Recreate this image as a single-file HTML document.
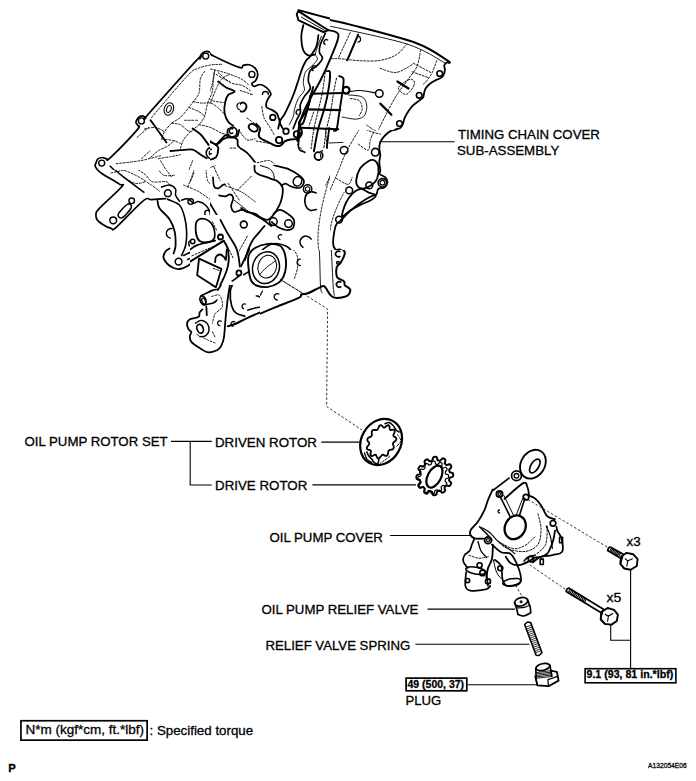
<!DOCTYPE html>
<html><head><meta charset="utf-8">
<style>
html,body{margin:0;padding:0;background:#fff;}
svg{display:block;}
text{font-family:"Liberation Sans",sans-serif;fill:#000;stroke:#000;stroke-width:0.3px;}
.l{font-size:13.4px;}
.b{font-size:11px;font-weight:bold;}
</style></head><body>
<svg width="696" height="781" viewBox="0 0 696 781">
<rect width="696" height="781" fill="#fff"/>
<g id="labels">
<text transform="translate(458.00 138.80) scale(0.981 1)" style="font-size:13.50px;font-weight:normal">TIMING CHAIN COVER</text>
<text transform="translate(457.00 154.60) scale(0.984 1)" style="font-size:13.50px;font-weight:normal">SUB-ASSEMBLY</text>
<text transform="translate(24.50 446.40) scale(0.981 1)" style="font-size:13.50px;font-weight:normal">OIL PUMP ROTOR SET</text>
<text transform="translate(215.00 446.70) scale(0.988 1)" style="font-size:13.50px;font-weight:normal">DRIVEN ROTOR</text>
<text transform="translate(215.00 489.80) scale(0.989 1)" style="font-size:13.50px;font-weight:normal">DRIVE ROTOR</text>
<text transform="translate(269.50 541.70) scale(0.982 1)" style="font-size:13.50px;font-weight:normal">OIL PUMP COVER</text>
<text transform="translate(261.50 614.20) scale(0.982 1)" style="font-size:13.50px;font-weight:normal">OIL PUMP RELIEF VALVE</text>
<text transform="translate(265.50 650.30) scale(0.978 1)" style="font-size:13.50px;font-weight:normal">RELIEF VALVE SPRING</text>
<text transform="translate(405.50 704.50) scale(0.972 1)" style="font-size:13.50px;font-weight:normal">PLUG</text>
<text transform="translate(25.50 734.20) scale(1.000 1)" style="font-size:13.50px;font-weight:normal">N*m (kgf*cm, ft.*lbf)</text>
<text transform="translate(149.50 734.60) scale(0.987 1)" style="font-size:13.50px;font-weight:normal">: Specified torque</text>
<text transform="translate(626.50 545.80) scale(1.101 1)" style="font-size:12.14px;font-weight:normal">x3</text>
<text transform="translate(606.50 602.30) scale(1.152 1)" style="font-size:12.14px;font-weight:normal">x5</text>
<text transform="translate(407.50 687.80) scale(0.942 1)" style="font-size:11.14px;font-weight:bold">49 (500, 37)</text>
<text transform="translate(586.50 678.10) scale(0.993 1)" style="font-size:10.71px;font-weight:bold">9.1 (93, 81 in.*lbf)</text>
<text transform="translate(8.20 771.80) scale(0.987 1)" style="font-size:11.43px;font-weight:bold">P</text>
<text transform="translate(648.00 768.30) scale(0.854 1)" style="font-size:7.86px;font-weight:normal">A132054E06</text>
</g>
<g id="lines" stroke="#000" fill="none" stroke-width="1.1">
<path d="M379.6 141.7H454.6"/>
<path d="M171 441.4H211.8M190.2 441.4V485H211.8"/>
<path d="M321.3 442.1H359.5"/>
<path d="M312.4 484.9H416"/>
<path d="M390 535.5H470"/>
<path d="M427.5 609.1H515"/>
<path d="M415.3 644.3H529.4"/>
<path d="M467.6 684.7H537"/>
<path d="M630.6 569.6V668.3M610.7 624.9V640.3H630.6"/>
<rect x="406.1" y="678.1" width="60.7" height="12.7" stroke-width="1.7"/>
<rect x="585.1" y="668.7" width="90.8" height="14.1" stroke-width="1.6"/>
<rect x="20.95" y="720.75" width="126.2" height="19.4" stroke-width="1.7"/>
</g>
<g id="dashed" stroke="#000" fill="none" stroke-width="0.8" stroke-dasharray="2.5 2">
<path d="M280.5 279.5L327.6 309L326.6 406.5L362 430"/>
<path d="M527.8 499.4L607.4 547.2"/>
<path d="M529.8 564.9L566.4 590"/>
<path d="M515.5 585.3L521.6 595.6"/>
</g>
<g id="drawing" stroke="#000" fill="none" stroke-linecap="round" stroke-linejoin="round">
<defs><clipPath id="k0"><rect x="80" y="40" width="130" height="130"/></clipPath><clipPath id="k1"><rect x="210" y="0" width="120" height="95"/><rect x="210" y="95" width="30" height="33"/><rect x="320" y="95" width="10" height="55"/></clipPath><clipPath id="k2"><rect x="330" y="0" width="130" height="130"/></clipPath><clipPath id="k3"><rect x="80" y="170" width="130" height="45"/><rect x="80" y="215" width="110" height="85"/></clipPath><clipPath id="k4"><rect x="80" y="300" width="180" height="70"/><rect x="190" y="285" width="70" height="15"/><rect x="250" y="250" width="10" height="35"/></clipPath><clipPath id="k5"><rect x="190" y="215" width="60" height="70"/></clipPath><clipPath id="k6"><rect x="210" y="128" width="30" height="22"/><rect x="210" y="150" width="30" height="65"/><rect x="240" y="165" width="90" height="50"/><rect x="320" y="150" width="10" height="15"/><rect x="250" y="215" width="80" height="35"/></clipPath><clipPath id="k7"><rect x="330" y="130" width="130" height="120"/></clipPath><clipPath id="k8"><rect x="260" y="250" width="200" height="120"/></clipPath><clipPath id="k15"><rect x="240" y="95" width="80" height="70"/></clipPath></defs>
<g clip-path="url(#k0)">
<path d="M100.9 173.4 C100.3 172.7 98.1 170.6 97.1 169.3 C96.1 168.1 95.3 167.0 95.1 165.9 C94.9 164.8 95.7 163.8 96.1 162.7 C96.5 161.6 96.7 160.0 97.7 159.1 C98.7 158.2 100.7 157.5 102.1 157.5 C103.6 157.4 105.2 158.6 106.6 158.7 C107.9 158.7 105.1 162.6 110.2 157.9 C115.2 153.1 132.3 135.5 136.9 130.1 C141.6 124.7 138.1 126.8 137.9 125.5 C137.8 124.2 135.9 123.8 135.9 122.5 C136.0 121.2 137.3 118.8 138.3 117.6 C139.4 116.5 141.1 115.8 142.4 115.8 C143.6 115.8 144.8 117.9 145.8 117.6 C146.8 117.3 139.9 123.6 148.4 114.0 C156.9 104.4 188.1 69.3 196.7 60.1 C205.2 50.9 199.2 59.7 199.9 58.9 C200.6 58.1 199.9 56.3 200.7 55.1 C201.5 53.9 203.2 52.2 204.7 51.7 C206.2 51.2 208.3 51.5 209.7 52.1 C211.1 52.6 211.3 53.8 213.2 55.1 C215.0 56.3 219.5 58.8 220.8 59.5" stroke-width="1.7"/>
<circle cx="101.7" cy="163.1" r="3.0" stroke-width="1.4"/>
<circle cx="141.4" cy="120.9" r="3.0" stroke-width="1.4"/>
<circle cx="205.7" cy="56.1" r="3.0" stroke-width="1.4"/>
<ellipse cx="168.9" cy="109.0" rx="4.6" ry="6.4" transform="rotate(20 168.9 109.0)" stroke-width="1.1"/>
<ellipse cx="168.9" cy="109.0" rx="2.2" ry="3.6" transform="rotate(20 168.9 109.0)" stroke-width="1.0"/>
<path d="M150.4 120.1 C151.5 121.5 154.2 125.2 156.8 128.9 C159.5 132.7 164.9 140.3 166.5 142.6" stroke-width="1.8"/>
<path d="M192.6 128.5 C194.0 129.5 198.0 131.8 200.7 134.5 C203.4 137.3 207.4 143.3 208.7 145.0" stroke-width="1.8"/>
<circle cx="211.8" cy="153.0" r="5.6" stroke-width="1.6"/>
<circle cx="211.8" cy="153.0" r="2.6" stroke-width="1.2"/>
<path d="M170.5 151.0 C172.2 150.9 176.9 150.5 180.6 150.2 C184.3 150.0 189.3 148.9 192.6 149.6 C196.0 150.4 198.3 153.2 200.7 154.7 C203.0 156.1 205.7 157.7 206.7 158.3" stroke-width="1.8"/>
<path d="M158.4 158.7 C160.5 158.3 166.8 157.3 170.5 156.7 C174.2 156.0 178.9 155.0 180.6 154.7" stroke-width="0.9" stroke-dasharray="2 1.6"/>
<path d="M110.2 166.3 C111.5 167.6 115.7 171.4 118.2 173.8 C120.7 176.2 124.1 179.6 125.3 180.8" stroke-width="1.6"/>
<path d="M116.2 163.7 C120.2 163.2 133.0 162.0 140.3 160.7 C147.7 159.3 157.1 156.5 160.5 155.7" stroke-width="0.9" stroke-dasharray="2 1.6"/>
<path d="M192.6 160.7 C192.0 162.4 190.0 167.4 188.6 170.7 C187.3 174.1 185.3 179.1 184.6 180.8" stroke-width="0.9" stroke-dasharray="2 1.6"/>
<path d="M160.5 160.7 C161.5 162.4 164.5 167.4 166.5 170.7 C168.5 174.1 171.5 179.1 172.5 180.8" stroke-width="0.9" stroke-dasharray="2 1.6"/>
</g>
<g clip-path="url(#k1)">
<path d="M200.0 56.3 C200.7 55.6 202.5 52.5 204.0 51.9 C205.5 51.3 207.4 52.0 209.1 52.7 C210.7 53.4 209.1 53.9 214.1 56.3 C219.1 58.8 234.4 65.9 239.2 67.4 C244.1 68.9 241.6 65.8 243.2 65.4 C244.9 64.9 247.3 64.3 249.3 64.8 C251.3 65.3 253.9 66.8 255.3 68.4 C256.7 70.0 257.7 72.4 257.7 74.4 C257.8 76.4 256.7 79.0 255.7 80.5 C254.7 82.0 252.1 82.5 251.9 83.5 C251.7 84.5 252.9 86.3 254.3 86.5 C255.7 86.7 258.3 84.2 260.3 84.5 C262.4 84.7 265.0 86.4 266.8 87.9 C268.5 89.4 270.3 91.3 270.8 93.5 C271.3 95.8 270.3 99.6 269.8 101.6 C269.3 103.6 267.7 104.2 268.0 105.6 C268.3 107.0 270.1 108.9 271.4 110.2 C272.7 111.6 275.0 112.2 276.0 113.6 C277.0 115.1 276.6 117.7 277.4 119.1 C278.2 120.4 279.8 120.9 280.9 121.7 C282.0 122.5 283.3 122.4 284.1 123.7 C284.9 125.0 284.6 128.2 285.5 129.7 C286.4 131.3 287.8 132.3 289.5 133.2 C291.2 134.1 293.5 135.2 295.5 135.2 C297.6 135.2 300.6 133.5 301.6 133.2" stroke-width="1.7"/>
<circle cx="206.0" cy="56.7" r="3.0" stroke-width="1.4"/>
<circle cx="251.9" cy="74.4" r="3.0" stroke-width="1.4"/>
<circle cx="265.4" cy="94.5" r="3.0" stroke-width="1.4"/>
<circle cx="274.4" cy="116.7" r="2.6" stroke-width="1.3"/>
<circle cx="286.9" cy="130.7" r="2.6" stroke-width="1.3"/>
<circle cx="297.0" cy="135.2" r="2.6" stroke-width="1.3"/>
<path d="M218.1 81.5 C219.4 82.5 223.4 85.8 226.1 87.5 C228.9 89.2 234.3 90.3 234.6 91.5 C234.9 92.8 229.7 93.1 228.2 94.9 C226.6 96.8 225.7 99.6 225.1 102.6 C224.5 105.5 224.0 109.5 224.5 112.6 C225.0 115.8 226.7 119.5 228.2 121.7 C229.6 123.9 232.4 125.0 233.2 125.7" stroke-width="1.8"/>
<circle cx="232.6" cy="130.7" r="3.4" stroke-width="1.4"/>
<ellipse cx="241.2" cy="106.6" rx="4.4" ry="3.6" transform="rotate(30 241.2 106.6)" stroke-width="1.3"/>
<ellipse cx="253.3" cy="126.7" rx="4.0" ry="3.4" transform="rotate(30 253.3 126.7)" stroke-width="1.3"/>
<path d="M200.0 66.4 C202.0 66.9 208.0 68.4 212.1 69.4 C216.1 70.4 219.4 70.9 224.1 72.4 C228.8 73.9 236.2 76.4 240.2 78.4 C244.3 80.5 246.9 83.5 248.3 84.5" stroke-width="0.9" stroke-dasharray="2 1.6"/>
<path d="M214.1 72.4 C213.7 74.4 213.1 80.5 212.1 84.5 C211.1 88.5 209.1 92.5 208.0 96.6 C207.0 100.6 206.7 104.6 206.0 108.6 C205.4 112.6 204.4 118.7 204.0 120.7" stroke-width="0.9" stroke-dasharray="2 1.6"/>
<path d="M200.0 94.5 C202.0 95.5 208.0 99.2 212.1 100.6 C216.1 101.9 222.1 102.3 224.1 102.6" stroke-width="0.9" stroke-dasharray="2 1.6"/>
<path d="M250.3 94.5 C251.3 95.5 254.6 97.6 256.3 100.6 C258.0 103.6 258.7 109.3 260.3 112.6 C262.0 116.0 265.4 119.3 266.4 120.7" stroke-width="0.9" stroke-dasharray="2 1.6"/>
<path d="M240.2 90.5 L252.3 94.5" stroke-width="0.9" stroke-dasharray="2 1.6"/>
<path d="M218.1 72.4 C220.1 74.1 226.1 80.3 230.2 82.5 C234.2 84.7 238.9 84.1 242.2 85.5 C245.6 86.8 248.9 89.7 250.3 90.5" stroke-width="0.9" stroke-dasharray="2 1.6"/>
<path d="M298.6 10.1 C302.3 11.1 313.8 14.2 320.7 16.1 C327.6 17.9 336.8 20.3 340.0 21.1" stroke-width="2.0"/>
</g>
<g clip-path="url(#k2)">
<path d="M320.0 18.1 C325.4 19.3 336.1 21.0 352.2 25.1 C368.3 29.3 400.7 37.4 416.6 43.2 C432.4 49.1 441.8 57.1 447.1 60.3 C452.5 63.6 448.5 62.4 448.7 62.8" stroke-width="2.0"/>
<path d="M328.0 25.7 C341.1 28.8 387.0 37.7 406.5 43.9 C425.9 50.0 438.3 59.6 444.7 62.8" stroke-width="0.9"/>
<path d="M447.7 62.0 C447.2 62.5 444.8 63.7 444.3 65.0 C443.8 66.2 445.0 68.0 444.9 69.6 C444.8 71.2 444.3 73.3 443.7 74.6 C443.1 76.0 442.7 76.8 441.5 77.6 C440.3 78.5 438.1 78.9 436.3 79.9 C434.5 80.8 432.3 81.9 430.6 83.3 C428.9 84.6 427.1 86.4 426.0 87.9 C424.9 89.4 424.7 91.0 424.2 92.5 C423.7 94.1 424.0 95.8 423.2 97.2 C422.4 98.5 420.8 99.2 419.2 100.6 C417.5 101.9 415.1 103.5 413.3 105.2 C411.6 106.9 410.1 108.7 408.7 110.8 C407.3 112.9 405.6 115.8 404.7 117.9 C403.7 120.0 403.8 121.8 403.1 123.5 C402.3 125.2 401.4 127.1 400.1 128.1 C398.7 129.2 397.1 128.2 394.8 129.9 C392.5 131.7 387.8 137.3 386.4 138.8" stroke-width="1.8"/>
<circle cx="439.7" cy="73.6" r="2.8" stroke-width="1.6"/>
<circle cx="419.2" cy="95.3" r="2.8" stroke-width="1.6"/>
<circle cx="399.5" cy="123.5" r="2.8" stroke-width="1.6"/>
<path d="M358.2 34.6 L347.2 60.3" stroke-width="2.0"/>
<path d="M350.2 32.6 L338.1 58.7" stroke-width="0.9" stroke-dasharray="2 1.6"/>
<path d="M357.8 36.4 A2.8 2.8 0 0 1 357.8 42.0" stroke-width="1.2"/>
<path d="M406.9 43.9 C405.2 45.7 400.9 52.0 396.4 54.7 C392.0 57.5 386.4 59.3 380.3 60.3 C374.3 61.4 366.9 61.0 360.2 60.7 C353.5 60.5 345.1 59.1 340.1 58.7 C335.1 58.4 331.7 58.7 330.1 58.7" stroke-width="0.9" stroke-dasharray="2 1.6"/>
<path d="M420.6 49.9 C420.0 52.6 419.2 61.2 417.0 66.4 C414.7 71.5 410.2 76.1 406.9 80.9 C403.5 85.6 400.2 89.6 396.8 94.9 C393.5 100.3 389.8 107.3 386.8 113.0 C383.8 118.7 380.1 126.5 378.7 129.1" stroke-width="0.9" stroke-dasharray="2 1.6"/>
<path d="M436.7 60.7 C435.7 63.1 433.3 70.8 431.0 74.8 C428.8 78.9 424.3 83.2 423.0 84.9" stroke-width="0.9" stroke-dasharray="2 1.6"/>
<path d="M413.3 63.2 L430.6 72.4" stroke-width="0.9" stroke-dasharray="2 1.6"/>
<path d="M412.1 71.8 L428.2 77.6" stroke-width="0.9" stroke-dasharray="2 1.6"/>
<path d="M398.4 87.9 C397.9 90.4 403.8 95.0 406.5 94.3 C409.2 93.7 414.0 86.4 414.5 83.9 C415.1 81.4 412.6 78.6 409.9 79.3 C407.2 79.9 399.0 85.4 398.4 87.9 Z" stroke-width="0.9" stroke-dasharray="2 1.6"/>
<path d="M397.4 81.5 L408.5 88.5" stroke-width="2.2"/>
<path d="M380.3 103.6 L391.4 114.7" stroke-width="2.2"/>
<circle cx="379.3" cy="93.5" r="3.8" stroke-width="1.5"/>
<path d="M348.2 91.9 C350.2 91.7 355.7 90.3 360.2 90.5 C364.8 90.7 372.8 92.5 375.3 92.9" stroke-width="1.2"/>
<path d="M348.2 94.9 C350.5 95.3 359.2 95.3 362.2 97.0 C365.3 98.6 366.3 102.0 366.7 105.0 C367.1 108.0 366.3 112.7 364.7 115.1 C363.0 117.4 360.4 118.7 356.6 119.1 C352.9 119.4 344.5 117.4 342.1 117.1" stroke-width="0.9"/>
<path d="M350.2 98.6 C351.7 98.9 357.2 98.9 359.2 100.6 C361.2 102.3 362.2 106.1 362.2 108.6 C362.2 111.1 359.7 114.5 359.2 115.7" stroke-width="0.9" stroke-dasharray="2 1.6"/>
<circle cx="346.1" cy="90.5" r="3.2" stroke-width="1.5"/>
<path d="M366.7 125.1 C368.0 126.1 372.4 128.8 374.7 131.1 C377.1 133.5 379.7 137.9 380.7 139.2" stroke-width="0.9" stroke-dasharray="2 1.6"/>
<path d="M358.2 130.7 L360.2 140.8" stroke-width="0.9" stroke-dasharray="2 1.6"/>
<path d="M380.3 68.4 C383.0 69.1 391.1 73.1 396.4 72.4 C401.8 71.7 409.8 65.7 412.5 64.4" stroke-width="0.9" stroke-dasharray="2 1.6"/>
</g>
<g clip-path="url(#k3)">
<path d="M95.1 165.0 C95.5 165.7 96.1 167.7 97.1 169.0 C98.1 170.4 97.5 170.5 101.1 173.0 C104.8 175.6 115.8 181.8 119.3 184.1 C122.7 186.4 125.0 182.7 121.7 186.7 C118.4 190.7 103.8 203.8 99.5 208.2 C95.3 212.7 96.5 211.4 96.1 213.3 C95.7 215.2 96.0 217.8 97.1 219.7 C98.3 221.6 100.8 223.3 103.2 224.7 C105.5 226.2 109.0 227.9 111.2 228.4 C113.4 228.8 110.9 232.0 116.2 227.4 C121.6 222.7 137.5 205.2 143.4 200.6 C149.3 196.0 147.7 199.9 151.4 199.6 C155.1 199.3 163.2 198.8 165.5 198.6" stroke-width="1.7"/>
<circle cx="113.2" cy="220.3" r="3.4" stroke-width="1.5"/>
<path d="M118.2 214.3 C119.2 212.0 125.5 205.3 127.7 204.2 C129.9 203.1 132.2 205.4 131.3 207.6 C130.4 209.9 124.4 216.6 122.3 217.7 C120.1 218.8 117.3 216.5 118.2 214.3 Z" stroke-width="1.5"/>
<circle cx="131.7" cy="200.8" r="2.8" stroke-width="1.4"/>
<path d="M111.0 166.2 C113.0 168.0 117.6 172.3 123.1 176.7 C128.5 181.0 140.3 189.6 143.8 192.2" stroke-width="1.5"/>
<path d="M111.0 173.0 C114.5 172.2 125.7 169.8 131.7 167.8 C137.8 165.8 144.6 162.1 147.2 161.0" stroke-width="0.9" stroke-dasharray="2 1.6"/>
<path d="M123.1 176.7 C125.1 177.8 131.4 182.5 135.1 183.3 C138.9 184.1 143.9 182.0 145.6 181.7" stroke-width="0.9" stroke-dasharray="2 1.6"/>
<path d="M135.1 167.8 C136.9 169.0 142.7 172.5 145.6 174.9 C148.5 177.2 149.0 180.6 152.4 181.7 C155.9 182.8 163.2 181.1 166.1 181.7 C169.0 182.3 169.1 184.5 169.7 185.1" stroke-width="0.9" stroke-dasharray="2 1.6"/>
<path d="M166.1 169.6 L171.4 176.7" stroke-width="0.9" stroke-dasharray="2 1.6"/>
<path d="M193.9 173.0 L190.3 181.7" stroke-width="0.9" stroke-dasharray="2 1.6"/>
<circle cx="167.9" cy="193.2" r="3.4" stroke-width="1.5"/>
<path d="M161.5 187.1 C162.8 186.8 167.2 184.8 169.5 185.1 C171.9 185.5 174.6 187.5 175.6 189.1 C176.6 190.8 174.9 193.2 175.6 195.2 C176.2 197.2 178.9 200.2 179.6 201.2" stroke-width="1.5"/>
<path d="M157.5 200.8 C157.8 202.0 157.5 205.2 159.5 208.2 C161.5 211.3 167.0 215.5 169.5 219.3 C172.1 223.2 173.6 227.0 174.6 231.4 C175.6 235.7 175.7 241.8 175.6 245.5 C175.4 249.1 173.9 252.2 173.6 253.5" stroke-width="1.8"/>
<path d="M167.5 199.2 C169.5 200.2 176.7 202.2 179.6 205.2 C182.4 208.2 183.5 212.9 184.6 217.3 C185.8 221.7 186.5 226.7 186.6 231.4 C186.8 236.1 186.5 241.4 185.6 245.5 C184.8 249.5 182.3 253.8 181.6 255.5" stroke-width="1.6"/>
<path d="M170.3 238.1 A4.8 4.8 0 0 1 172.0 228.6" stroke-width="1.4"/>
<path d="M169.5 248.5 C168.9 249.0 166.5 250.0 165.5 251.5 C164.5 253.0 163.2 255.5 163.5 257.5 C163.8 259.6 165.9 262.2 167.5 264.0 C169.2 265.7 171.6 267.2 173.6 268.0 C175.6 268.8 177.3 269.3 179.6 269.0 C181.9 268.7 185.0 267.5 187.6 266.0 C190.3 264.5 192.7 262.3 195.7 259.9 C198.7 257.6 202.4 254.2 205.7 251.9 C209.1 249.5 214.1 246.9 215.8 245.9" stroke-width="1.8"/>
<circle cx="178.6" cy="261.6" r="3.4" stroke-width="1.5"/>
<path d="M181.6 200.2 C182.6 200.0 185.6 198.3 187.6 198.8 C189.7 199.3 191.9 202.7 193.7 203.2 C195.4 203.7 196.1 201.3 198.1 201.6 C200.1 201.9 203.7 203.3 205.7 205.2 C207.8 207.2 209.8 211.2 210.2 213.3 C210.6 215.4 208.5 217.0 208.2 217.7" stroke-width="1.5"/>
<circle cx="190.7" cy="201.6" r="2.8" stroke-width="1.4"/>
<circle cx="207.8" cy="213.3" r="3.0" stroke-width="1.4"/>
<ellipse cx="205.7" cy="231.4" rx="9.1" ry="11.1" transform="rotate(0 205.7 231.4)" stroke-width="1.5"/>
<circle cx="191.7" cy="243.4" r="3.0" stroke-width="1.4"/>
<path d="M183.6 255.5 L215.8 239.8" stroke-width="1.5"/>
<path d="M187.6 259.5 L215.8 247.9" stroke-width="1.5"/>
<path d="M189.7 253.5 L215.8 243.4" stroke-width="0.9" stroke-dasharray="2 1.6"/>
<path d="M200.1 257.9 C199.7 260.9 195.1 271.4 197.7 276.0 C200.3 280.7 212.8 284.1 215.8 285.7" stroke-width="1.6"/>
<path d="M111.2 165.0 C115.2 166.7 128.6 171.7 135.3 175.1 C142.0 178.4 147.4 182.4 151.4 185.1 C155.5 187.8 158.1 190.1 159.5 191.1" stroke-width="0.9" stroke-dasharray="2 1.6"/>
<path d="M155.5 165.0 C156.8 166.7 160.2 173.4 163.5 175.1 C166.9 176.7 173.6 175.1 175.6 175.1" stroke-width="0.9" stroke-dasharray="2 1.6"/>
<path d="M195.7 165.0 C195.0 167.0 193.0 173.4 191.7 177.1 C190.3 180.8 188.3 185.5 187.6 187.1" stroke-width="0.9" stroke-dasharray="2 1.6"/>
<path d="M205.7 165.0 C206.1 167.7 206.1 177.4 207.8 181.1 C209.4 184.8 214.5 186.1 215.8 187.1" stroke-width="0.9" stroke-dasharray="2 1.6"/>
<path d="M183.6 185.1 C186.0 186.1 193.3 188.8 197.7 191.1 C202.1 193.5 207.8 197.9 209.8 199.2" stroke-width="0.9" stroke-dasharray="2 1.6"/>
</g>
<g clip-path="url(#k4)">
<path d="M199.7 258.5 L221.6 268.3 L215.9 287.3 L196.9 276.1 Z" stroke-width="1.8"/>
<path d="M215.2 260.6 C215.5 259.9 215.8 257.2 216.9 256.3 C218.0 255.5 220.5 255.0 222.0 255.4 C223.5 255.7 225.0 258.6 225.8 258.2 C226.5 257.7 226.4 253.7 226.5 252.8" stroke-width="1.6"/>
<path d="M226.5 250.0 C226.8 251.6 228.2 256.3 228.2 259.9 C228.2 263.4 227.5 267.4 226.5 271.1 C225.5 274.9 223.7 279.2 222.3 282.4 C220.8 285.6 218.5 288.9 217.7 290.1" stroke-width="1.8"/>
<path d="M201.1 295.8 C203.0 294.9 209.6 291.5 212.4 290.4 C215.2 289.4 216.9 289.6 217.7 289.4" stroke-width="1.7"/>
<path d="M203.7 304.9 C205.4 304.6 211.6 303.5 213.8 302.7 C216.0 301.9 216.4 300.6 216.9 300.1" stroke-width="1.7"/>
<ellipse cx="203.0" cy="300.3" rx="2.8" ry="4.6" transform="rotate(-20 203.0 300.3)" stroke-width="1.7"/>
<ellipse cx="203.7" cy="301.0" rx="1.7" ry="3.0" transform="rotate(-20 203.7 301.0)" stroke-width="1.3"/>
<path d="M206.3 306.3 L206.8 315.1" stroke-width="1.8"/>
<path d="M202.5 309.4 C202.1 309.9 200.3 311.1 199.7 312.3 C199.1 313.4 199.8 315.5 199.0 316.5 C198.3 317.4 196.7 317.4 195.2 317.9 C193.7 318.4 191.2 318.4 189.9 319.3 C188.5 320.2 187.3 321.9 187.0 323.5 C186.8 325.2 187.7 327.7 188.5 329.2 C189.2 330.6 191.0 330.8 191.3 332.0 C191.5 333.1 189.9 334.6 189.9 336.2 C189.9 337.8 189.4 339.7 191.3 341.8 C193.1 343.9 198.3 347.1 201.1 348.9 C203.9 350.6 205.5 352.2 208.2 352.4 C210.8 352.6 214.7 351.3 216.9 350.3 C219.1 349.2 220.0 348.2 221.1 346.1 C222.3 343.9 223.2 341.8 223.9 337.6 C224.6 333.4 224.9 325.9 225.4 320.7 C225.8 315.5 226.2 311.3 226.8 306.6 C227.3 301.9 228.0 296.8 228.7 292.5 C229.4 288.3 229.9 283.7 231.0 281.3 C232.1 278.9 233.8 278.8 235.2 278.2 C236.6 277.5 238.7 277.6 239.4 277.5" stroke-width="1.8"/>
<ellipse cx="200.1" cy="328.7" rx="3.1" ry="4.5" transform="rotate(-20 200.1 328.7)" stroke-width="1.7"/>
<path d="M195.5 323.2 C196.4 322.8 199.1 320.3 201.1 320.4 C203.1 320.5 206.2 322.2 207.5 323.9 C208.8 325.7 209.2 329.0 208.9 331.0 C208.5 333.0 206.9 335.0 205.4 335.9 C203.8 336.9 200.7 336.5 199.7 336.6" stroke-width="1.4"/>
<path d="M219.7 325.6 A2.4 2.4 0 1 1 221.3 321.2" stroke-width="1.3"/>
<path d="M233.1 326.3 A2.4 2.4 0 1 1 234.7 321.9" stroke-width="1.3"/>
<path d="M243.6 308.8 A2.5 2.5 0 1 1 245.4 304.1" stroke-width="1.3"/>
<circle cx="239.2" cy="273.2" r="3.4" stroke-width="1.6"/>
<path d="M246.2 250.0 L242.0 264.1" stroke-width="1.7"/>
<path d="M227.9 326.3 C229.3 325.9 233.1 324.9 236.3 323.5 C239.6 322.1 243.6 319.8 247.6 317.9 C251.6 316.0 258.2 313.2 260.3 312.3" stroke-width="2.0"/>
<path d="M233.2 283.0 C232.7 284.4 230.5 287.7 230.3 291.6 C230.0 295.4 230.7 302.3 231.7 305.9 C232.7 309.5 233.9 311.4 236.1 313.1 C238.2 314.8 243.2 315.6 244.6 316.1" stroke-width="1.7"/>
<path d="M247.6 310.1 C249.0 309.7 253.4 308.5 256.1 307.7 C258.7 307.0 262.6 307.6 263.4 305.9 C264.2 304.3 262.2 299.6 261.0 297.9 C259.8 296.2 257.0 296.2 256.2 295.9" stroke-width="1.5"/>
<path d="M211.7 296.5 C213.0 296.3 218.0 293.7 219.7 295.4 C221.5 297.0 223.0 303.6 222.3 306.6 C221.5 309.7 216.9 310.9 215.2 313.7 C213.6 316.4 212.9 321.6 212.4 323.2" stroke-width="0.9" stroke-dasharray="2 1.6"/>
<path d="M196.9 334.5 C198.8 335.4 205.1 338.7 208.2 340.1 C211.2 341.6 214.0 342.5 215.2 343.0" stroke-width="0.9" stroke-dasharray="2 1.6"/>
<path d="M212.4 331.7 L215.2 337.3" stroke-width="0.9" stroke-dasharray="2 1.6"/>
</g>
<g clip-path="url(#k5)">
<path d="M199.0 258.6 L221.4 268.9 L216.0 287.3 L197.2 275.2 Z" stroke-width="1.8"/>
<path d="M190.0 261.7 L223.6 240.8" stroke-width="2.0"/>
<path d="M190.0 249.6 C191.2 248.8 193.0 246.6 197.2 245.1 C201.4 243.6 212.1 241.4 215.1 240.6" stroke-width="1.7"/>
<path d="M191.8 255.9 L221.4 242.9" stroke-width="0.9" stroke-dasharray="2 1.6"/>
<path d="M197.0 221.0 C198.5 218.7 202.3 218.2 205.0 219.0 C207.6 219.9 211.4 222.9 213.0 226.0 C214.5 229.1 215.1 234.8 214.5 237.5 C213.8 240.1 211.5 241.4 209.0 242.0 C206.5 242.6 201.9 242.5 199.7 241.0 C197.5 239.5 196.5 236.3 196.0 233.0 C195.6 229.7 195.5 223.3 197.0 221.0 Z" stroke-width="1.8"/>
<circle cx="220.5" cy="237.0" r="2.5" stroke-width="1.8"/>
<path d="M215.1 262.2 C215.3 261.3 215.1 258.0 216.0 256.8 C216.9 255.5 219.1 254.4 220.5 254.5 C221.9 254.7 223.6 256.8 224.5 257.7 C225.4 258.5 225.5 260.8 225.9 259.5 C226.2 258.1 226.6 251.2 226.8 249.6" stroke-width="1.8"/>
<path d="M223.6 240.8 C224.3 242.1 226.8 245.4 227.7 248.7 C228.5 252.0 228.9 256.8 228.7 260.4 C228.6 263.9 228.0 266.5 226.8 270.2 C225.5 274.0 223.2 279.3 221.4 282.8 C219.6 286.2 216.9 289.5 216.0 290.9" stroke-width="1.8"/>
<path d="M220.5 220.0 C221.7 222.2 225.1 229.0 227.7 233.5 C230.2 237.9 233.9 243.2 235.7 246.9 C237.5 250.6 237.8 252.6 238.4 255.9 C239.1 259.2 239.6 264.8 239.8 266.6" stroke-width="1.8"/>
<circle cx="238.9" cy="272.9" r="2.5" stroke-width="1.8"/>
<path d="M241.1 266.2 L251.0 246.0" stroke-width="1.8"/>
<path d="M232.2 281.0 C232.9 280.5 235.3 278.8 236.6 277.8 C238.0 276.9 239.6 275.6 240.2 275.2" stroke-width="1.6"/>
<path d="M243.8 274.7 L251.0 270.2" stroke-width="1.6"/>
<path d="M212.4 221.8 L216.9 230.8" stroke-width="0.9" stroke-dasharray="2 1.6"/>
<path d="M225.9 243.3 L233.0 257.7" stroke-width="0.9" stroke-dasharray="2 1.6"/>
<path d="M247.4 236.1 L238.4 252.3" stroke-width="0.9" stroke-dasharray="2 1.6"/>
<path d="M213.3 268.4 L220.5 271.1" stroke-width="0.9" stroke-dasharray="2 1.6"/>
<circle cx="243.8" cy="224.5" r="3.4" stroke-width="1.6"/>
<circle cx="192.7" cy="241.5" r="2.2" stroke-width="1.5"/>
</g>
<g clip-path="url(#k6)">
<path d="M205.0 140.1 C207.0 140.8 214.1 144.3 217.1 144.1 C220.1 143.9 220.8 140.3 223.1 139.1 C225.5 137.9 228.8 137.0 231.1 137.1 C233.5 137.1 236.0 138.0 237.2 139.5 C238.4 141.0 236.8 144.2 238.2 146.1 C239.5 148.1 243.1 149.6 245.2 151.1 C247.4 152.7 249.8 153.8 251.3 155.6 C252.8 157.3 253.7 159.0 254.3 161.6 C254.9 164.2 254.0 169.1 254.9 171.3 C255.7 173.4 257.6 173.8 259.3 174.7 C261.1 175.6 263.0 175.9 265.3 176.7 C267.7 177.5 271.5 179.0 273.4 179.7 C275.3 180.4 275.4 179.7 276.8 180.7 C278.2 181.7 280.8 183.9 281.8 185.7 C282.8 187.6 283.0 189.1 282.8 191.8 C282.7 194.5 281.8 198.8 280.8 201.8 C279.8 204.9 278.3 207.4 276.8 209.9 C275.3 212.4 273.4 215.2 271.8 216.9 C270.2 218.6 269.1 219.8 267.4 219.9 C265.6 220.1 263.3 218.9 261.3 217.9 C259.3 216.9 257.6 214.9 255.3 213.9 C252.9 212.9 249.6 212.9 247.2 211.9 C244.9 210.9 242.2 208.5 241.2 207.9" stroke-width="1.8"/>
<path d="M213.0 177.3 C213.2 178.8 213.2 184.5 214.1 186.4 C214.9 188.2 216.6 188.6 218.1 188.4 C219.6 188.1 221.9 185.4 223.1 184.7 C224.3 184.1 224.8 184.4 225.1 184.3" stroke-width="1.7"/>
<path d="M219.1 195.4 C220.1 195.6 223.3 196.6 225.1 196.4 C227.0 196.2 228.8 194.1 230.1 194.4 C231.5 194.7 233.0 196.5 233.2 198.4 C233.3 200.3 231.0 203.6 231.1 205.9 C231.3 208.1 232.4 211.2 234.2 211.9 C235.9 212.6 239.4 209.9 241.6 209.9 C243.8 209.9 246.3 211.6 247.2 211.9" stroke-width="1.7"/>
<path d="M194.9 132.0 C198.5 134.2 212.2 142.1 216.1 145.1 C219.9 148.1 218.1 148.1 218.1 150.1 C218.1 152.2 217.4 155.6 216.1 157.2 C214.7 158.8 211.9 159.4 210.0 159.6 C208.2 159.8 207.5 159.6 205.0 158.2 C202.5 156.8 196.6 152.3 194.9 151.1" stroke-width="1.9"/>
<path d="M211.2 153.6 A2.4 2.4 0 1 1 211.2 149.5" stroke-width="1.6"/>
<path d="M216.1 145.1 C217.6 143.5 223.1 136.8 225.1 135.5 C227.1 134.1 227.0 136.7 228.1 137.1 C229.3 137.4 230.6 137.6 232.2 137.5 C233.7 137.3 236.0 137.3 237.2 136.1 C238.4 134.8 238.9 131.0 239.2 130.0" stroke-width="1.9"/>
<circle cx="232.2" cy="132.0" r="4.8" stroke-width="1.8"/>
<path d="M232.8 133.1 A2.4 2.4 0 1 1 232.8 128.9" stroke-width="1.5"/>
<path d="M205.0 160.2 C205.2 161.9 205.2 167.7 206.0 170.3 C206.8 172.8 209.4 174.4 210.0 175.3" stroke-width="0.9" stroke-dasharray="2 1.6"/>
<path d="M214.1 167.2 C214.7 168.8 217.1 174.1 218.1 176.3 C219.1 178.5 219.8 179.6 220.1 180.3" stroke-width="0.9" stroke-dasharray="2 1.6"/>
<path d="M237.2 190.4 L251.3 176.3" stroke-width="0.9" stroke-dasharray="2 1.6"/>
<path d="M228.1 183.3 L239.2 200.0" stroke-width="0.9" stroke-dasharray="2 1.6"/>
<path d="M255.3 163.2 L264.9 160.2" stroke-width="0.9" stroke-dasharray="2 1.6"/>
<path d="M230.1 148.1 L237.2 148.1" stroke-width="0.9" stroke-dasharray="2 1.6"/>
<path d="M257.7 163.6 C259.0 163.3 262.4 161.3 265.3 161.6 C268.3 161.9 271.7 164.5 275.4 165.6 C279.1 166.8 283.4 167.0 287.5 168.6 C291.5 170.3 296.8 173.5 299.5 175.7 C302.3 177.9 303.9 179.7 304.0 181.7 C304.0 183.7 302.0 186.9 299.9 187.8 C297.9 188.6 294.3 187.4 291.9 186.8 C289.5 186.1 287.2 183.9 285.5 183.7 C283.7 183.6 282.1 185.4 281.4 185.7" stroke-width="1.7"/>
<ellipse cx="297.5" cy="181.3" rx="4.2" ry="4.8" transform="rotate(20 297.5 181.3)" stroke-width="1.5"/>
<path d="M260.3 165.6 C261.8 166.1 267.2 167.3 269.4 168.6 C271.5 170.0 272.6 171.8 273.4 173.7 C274.2 175.5 274.2 178.7 274.4 179.7" stroke-width="1.0"/>
<path d="M273.4 213.9 C274.5 213.2 277.4 209.9 279.8 209.9 C282.2 209.9 285.5 212.2 287.9 213.9 C290.2 215.6 293.1 217.6 293.9 219.9 C294.7 222.3 294.2 226.3 292.9 228.0 C291.6 229.7 288.4 230.2 285.9 230.0 C283.3 229.8 280.2 228.3 277.8 227.0 C275.5 225.6 272.8 222.8 271.8 222.0" stroke-width="1.7"/>
<circle cx="273.4" cy="221.6" r="3.8" stroke-width="1.5"/>
<circle cx="288.5" cy="223.6" r="3.8" stroke-width="1.5"/>
<circle cx="307.6" cy="189.0" r="4.2" stroke-width="1.5"/>
<circle cx="307.6" cy="189.0" r="2.2" stroke-width="1.1"/>
<path d="M316.0 192.8 C315.0 192.6 311.4 191.0 309.6 191.8 C307.8 192.6 305.8 195.1 305.2 197.4 C304.5 199.7 304.8 203.3 305.6 205.5 C306.4 207.6 308.2 209.6 310.0 210.3 C311.8 211.0 315.4 209.6 316.4 209.5" stroke-width="1.7"/>
<circle cx="243.2" cy="224.0" r="3.8" stroke-width="1.5"/>
<path d="M303.0 247.3 A6.0 6.0 0 1 1 311.2 239.1" stroke-width="1.5"/>
<path d="M280.0 239.4 A2.4 2.4 0 1 1 281.6 234.9" stroke-width="1.2"/>
<path d="M209.0 201.8 C211.4 205.9 219.1 218.6 223.1 226.0 C227.1 233.4 230.1 239.5 233.2 246.1 C236.2 252.7 239.9 262.5 241.2 265.8" stroke-width="1.8"/>
<path d="M249.3 265.8 C250.7 263.9 253.9 257.8 257.7 254.1 C261.5 250.5 267.1 245.4 271.8 244.1 C276.5 242.7 282.2 244.4 285.9 246.1 C289.5 247.8 291.9 250.9 293.9 254.1 C295.9 257.4 297.3 263.9 297.9 265.8" stroke-width="1.6"/>
<path d="M330.1 175.7 C328.8 180.7 324.1 195.8 322.1 205.9 C320.1 215.9 318.4 226.0 318.0 236.0 C317.7 246.0 319.7 260.8 320.1 265.8" stroke-width="0.9" stroke-dasharray="2 1.6"/>
<path d="M345.8 213.9 C344.2 214.9 338.1 216.9 336.1 219.9 C334.2 223.0 333.8 227.7 334.1 232.0 C334.5 236.4 338.2 240.5 338.2 246.1 C338.2 251.7 334.8 262.5 334.1 265.8" stroke-width="1.7"/>
<circle cx="338.8" cy="219.9" r="2.8" stroke-width="1.4"/>
<circle cx="339.8" cy="254.1" r="2.8" stroke-width="1.4"/>
<path d="M302.0 125.0 L299.9 145.1" stroke-width="1.4"/>
<path d="M314.0 129.0 L310.0 151.1" stroke-width="1.4"/>
<path d="M326.1 131.0 L322.1 151.1" stroke-width="1.4"/>
<circle cx="318.6" cy="155.6" r="4.2" stroke-width="1.6"/>
<circle cx="318.6" cy="155.6" r="2.2" stroke-width="1.2"/>
<path d="M205.0 169.7 L215.1 165.6" stroke-width="0.9" stroke-dasharray="2 1.6"/>
<path d="M225.1 185.7 C227.8 186.8 236.2 189.1 241.2 191.8 C246.2 194.5 252.9 200.2 255.3 201.8" stroke-width="0.9" stroke-dasharray="2 1.6"/>
<path d="M245.2 125.0 C245.2 127.0 243.9 134.1 245.2 137.1 C246.6 140.1 251.9 142.1 253.3 143.1" stroke-width="0.9" stroke-dasharray="2 1.6"/>
<path d="M299.5 145.1 C302.6 145.5 311.9 147.8 317.6 147.1 C323.3 146.5 329.0 142.8 333.7 141.1 C338.4 139.4 343.8 137.7 345.8 137.1" stroke-width="0.9" stroke-dasharray="2 1.6"/>
<path d="M335.7 165.2 L325.7 185.3" stroke-width="0.9" stroke-dasharray="2 1.6"/>
</g>
<g clip-path="url(#k7)">
<path d="M402.5 120.0 C402.0 121.3 401.5 126.2 399.5 128.0 C397.4 129.9 392.9 129.7 390.4 131.1 C387.9 132.4 386.0 134.2 384.4 136.1 C382.7 137.9 381.2 140.1 380.3 142.1 C379.5 144.1 379.3 146.0 379.3 148.2 C379.3 150.3 380.3 152.9 380.3 155.2 C380.3 157.5 379.3 159.7 379.3 162.2 C379.3 164.8 380.2 168.3 380.3 170.3 C380.4 172.3 379.1 173.1 379.9 174.3 C380.8 175.5 384.1 176.0 385.4 177.3 C386.6 178.7 387.6 180.7 387.4 182.4 C387.2 184.0 385.9 186.3 384.4 187.4 C382.9 188.5 379.7 187.6 378.3 188.8 C377.0 190.0 377.7 193.1 376.3 194.4 C375.0 195.8 373.0 195.4 370.3 196.8 C367.6 198.2 363.6 200.5 360.2 202.9 C356.9 205.2 353.2 208.2 350.2 210.9 C347.2 213.6 344.5 216.6 342.1 219.0 C339.8 221.3 337.4 222.7 336.1 225.0 C334.8 227.3 334.6 230.0 334.1 233.0 C333.6 236.1 332.9 240.4 333.1 243.1 C333.2 245.8 333.9 247.8 335.1 249.1 C336.3 250.5 338.8 250.0 340.1 251.1 C341.5 252.3 343.1 254.6 343.1 256.2 C343.1 257.8 340.6 260.0 340.1 260.8" stroke-width="1.8"/>
<circle cx="399.5" cy="124.0" r="3.8" stroke-width="1.6"/>
<circle cx="375.3" cy="152.2" r="3.8" stroke-width="1.6"/>
<circle cx="382.4" cy="182.8" r="4.2" stroke-width="1.6"/>
<circle cx="382.4" cy="182.8" r="2.4" stroke-width="1.2"/>
<circle cx="369.3" cy="185.4" r="3.4" stroke-width="1.6"/>
<circle cx="349.2" cy="190.4" r="3.4" stroke-width="1.6"/>
<circle cx="339.1" cy="219.6" r="3.4" stroke-width="1.6"/>
<circle cx="339.1" cy="252.8" r="3.4" stroke-width="1.6"/>
<path d="M356.2 180.3 C356.5 177.3 358.2 171.5 360.2 168.3 C362.2 165.1 365.9 162.6 368.3 161.2 C370.6 159.9 372.6 159.4 374.3 160.2 C376.0 161.1 377.8 163.2 378.3 166.3 C378.8 169.3 378.3 175.3 377.3 178.3 C376.3 181.4 374.5 182.7 372.3 184.4 C370.1 186.0 366.6 188.0 364.3 188.4 C361.9 188.8 359.6 188.1 358.2 186.8 C356.9 185.4 355.9 183.4 356.2 180.3 Z" stroke-width="1.8"/>
<path d="M342.1 216.1 C341.5 214.8 344.3 206.4 346.1 202.5 C348.0 198.6 350.7 195.1 353.2 192.8 C355.7 190.5 358.7 188.9 361.2 188.8 C363.8 188.7 365.8 191.3 368.3 192.4 C370.7 193.5 375.6 194.1 375.9 195.4 C376.3 196.8 372.9 198.9 370.3 200.5 C367.7 202.0 363.6 203.2 360.2 204.9 C356.9 206.6 353.2 208.6 350.2 210.5 C347.2 212.4 342.8 217.5 342.1 216.1 Z" stroke-width="1.8"/>
<path d="M320.0 212.5 C322.7 206.5 331.7 186.4 336.1 176.3 C340.5 166.3 342.1 160.2 346.1 152.2 C350.2 144.1 356.9 133.4 360.2 128.0 C363.6 122.7 365.3 121.3 366.3 120.0" stroke-width="0.9" stroke-dasharray="2 1.6"/>
<path d="M336.1 178.3 C338.1 179.3 345.5 184.5 348.2 184.4 C350.8 184.2 351.5 178.5 352.2 177.3" stroke-width="0.9" stroke-dasharray="2 1.6"/>
<path d="M358.2 144.1 C359.9 145.1 366.3 150.8 368.3 150.2 C370.3 149.5 369.1 143.5 370.3 140.1 C371.5 136.8 373.0 132.4 375.3 130.1 C377.7 127.7 382.9 126.7 384.4 126.0" stroke-width="0.9" stroke-dasharray="2 1.6"/>
<path d="M362.2 128.0 C363.9 128.7 369.3 131.1 372.3 132.1 C375.3 133.1 379.0 133.7 380.3 134.1" stroke-width="0.9" stroke-dasharray="2 1.6"/>
<circle cx="344.1" cy="150.2" r="3.8" stroke-width="1.5"/>
<circle cx="320.0" cy="154.2" r="3.8" stroke-width="1.5"/>
<path d="M328.0 240.7 C328.7 237.3 330.4 226.6 332.1 220.6 C333.7 214.5 336.1 209.2 338.1 204.5 C340.1 199.8 343.1 194.4 344.1 192.4" stroke-width="0.9" stroke-dasharray="2 1.6"/>
</g>
<g clip-path="url(#k8)">
<path d="M284.9 242.3 C286.8 244.2 294.3 249.6 296.4 253.8 C298.5 258.0 297.9 263.4 297.5 267.6 C297.1 271.8 294.7 277.2 294.1 279.1" stroke-width="0.9" stroke-dasharray="2 1.6"/>
<path d="M301.4 247.4 A3.2 3.2 0 0 1 301.4 240.9" stroke-width="1.3"/>
<path d="M300.3 265.5 A3.2 3.2 0 0 1 300.3 259.1" stroke-width="1.3"/>
<path d="M277.3 300.0 A3.2 3.2 0 1 1 278.9 294.0" stroke-width="1.3"/>
<path d="M255.0 315.9 C258.4 314.4 268.4 310.1 275.7 307.1 C283.0 304.1 294.4 300.0 298.7 297.9 C303.0 295.8 299.9 295.2 301.4 294.5 C303.0 293.7 304.9 294.5 307.9 293.3 C310.9 292.2 316.6 288.7 319.4 287.6 C322.1 286.4 322.5 285.1 324.4 286.4 C326.3 287.8 328.8 293.7 330.9 295.6 C332.9 297.5 333.9 297.9 336.6 297.9 C339.4 297.9 345.2 297.0 347.4 295.6 C349.7 294.2 350.6 291.1 350.2 289.4 C349.8 287.7 345.9 286.6 344.9 285.3 C343.9 284.0 345.0 282.6 344.2 281.6 C343.4 280.6 341.1 279.9 339.8 279.1 C338.6 278.2 337.3 278.5 336.8 276.6 C336.3 274.6 336.2 269.4 336.8 267.1 C337.5 264.8 339.4 264.9 340.7 262.8 C342.0 260.6 344.2 256.2 344.7 254.0 C345.1 251.9 345.1 251.3 343.3 249.9 C341.5 248.5 335.6 247.0 333.9 245.5 C332.1 244.1 332.8 243.7 332.9 241.1 C333.1 238.6 334.5 232.0 334.8 230.1" stroke-width="2.0"/>
<path d="M339.8 256.4 A2.8 2.8 0 1 1 339.8 251.6" stroke-width="1.7"/>
<circle cx="338.0" cy="262.8" r="1.4" stroke-width="1.5"/>
<path d="M340.7 286.8 A2.8 2.8 0 1 1 340.7 282.0" stroke-width="1.7"/>
<path d="M317.1 240.0 C317.5 241.9 318.8 243.8 319.4 251.5 C319.9 259.2 320.1 279.1 320.5 286.0 C321.0 292.9 321.9 291.7 322.1 292.9" stroke-width="0.9"/>
<path d="M330.9 240.0 C331.1 243.8 331.6 255.3 332.0 263.0 C332.4 270.7 332.8 280.6 333.2 286.0 C333.5 291.3 334.1 293.6 334.3 295.2" stroke-width="0.9"/>
<path d="M255.0 293.3 C255.8 293.7 258.4 296.0 259.6 295.6 C260.8 295.2 261.9 291.8 262.4 291.0" stroke-width="1.3"/>
<path d="M280.3 279.5 L303.7 294.0" stroke-width="0.9" stroke-dasharray="2 1.6"/>
</g>
<ellipse cx="532.9" cy="464.2" rx="11.9" ry="15.2" transform="rotate(32 532.9 464.2)" stroke-width="1.9"/>
<ellipse cx="534.8" cy="466.0" rx="3.9" ry="7.8" transform="rotate(32 534.8 466.0)" stroke-width="1.7"/>
<path d="M509.0 478.1 L493.0 490.4" stroke-width="1.8"/>
<circle cx="516.5" cy="475.8" r="4.9" stroke-width="1.7"/>
<circle cx="516.5" cy="475.8" r="2.3" stroke-width="1.3"/>
<path d="M556.5 527.0 C556.6 527.7 556.6 529.2 557.5 531.1 C558.3 533.1 560.8 535.3 561.6 538.7 C562.4 542.1 563.7 548.9 562.2 551.6 C560.7 554.3 556.1 554.1 552.4 555.1 C548.7 556.0 543.3 555.9 540.1 557.1 C536.8 558.3 534.1 561.5 532.9 562.4" stroke-width="1.8"/>
<path d="M559.5 537.3 L562.6 537.3 L562.6 542.8 L559.5 542.8 Z" stroke-width="1.5"/>
<path d="M546.2 526.0 C546.9 527.7 549.3 532.5 550.3 536.2 C551.3 540.0 552.0 546.5 552.4 548.5" stroke-width="1.2"/>
<path d="M492.6 489.5 C491.9 491.3 489.4 496.4 488.0 500.0 C486.6 503.5 485.8 507.1 484.2 510.7 C482.5 514.3 480.2 518.3 478.0 521.5 C475.9 524.6 472.5 527.4 471.1 529.5 C469.8 531.6 469.5 532.6 470.1 534.1 C470.6 535.5 472.3 537.6 474.7 538.4 C477.0 539.1 482.6 538.6 484.2 538.7" stroke-width="1.8"/>
<path d="M479.6 526.8 C481.0 528.3 486.0 533.1 488.0 535.3 C490.1 537.5 491.2 539.4 491.9 540.2" stroke-width="1.6"/>
<circle cx="488.0" cy="540.2" r="3.4" stroke-width="1.8"/>
<circle cx="488.0" cy="540.2" r="1.5" stroke-width="1.2"/>
<path d="M474.7 538.4 C474.2 539.4 472.7 542.5 471.9 544.5 C471.1 546.6 470.9 548.8 469.6 550.7 C468.3 552.5 465.2 553.7 464.2 555.6 C463.2 557.4 462.9 559.7 463.4 561.7 C464.0 563.8 466.9 566.8 467.6 567.9" stroke-width="1.7"/>
<ellipse cx="475.7" cy="570.6" rx="10.0" ry="3.4" transform="rotate(10 475.7 570.6)" stroke-width="1.6"/>
<path d="M466.1 572.2 C466.0 574.5 464.7 582.9 465.4 586.0 C466.2 589.1 467.0 590.0 470.4 590.6 C473.7 591.1 482.4 590.1 485.7 589.4 C489.0 588.6 489.6 586.5 490.3 586.0" stroke-width="1.7"/>
<path d="M486.5 572.2 L488.0 586.0" stroke-width="1.6"/>
<circle cx="479.6" cy="565.2" r="2.5" stroke-width="1.6"/>
<circle cx="482.6" cy="572.9" r="2.8" stroke-width="1.6"/>
<circle cx="488.0" cy="581.4" r="2.5" stroke-width="1.6"/>
<circle cx="500.3" cy="568.3" r="2.5" stroke-width="1.6"/>
<path d="M491.9 544.5 C493.4 545.8 498.0 550.7 501.1 552.2 C504.1 553.7 507.7 551.9 510.3 553.7 C512.9 555.5 514.6 558.8 516.4 562.9 C518.2 567.0 520.8 574.7 521.0 578.3 C521.3 581.9 520.3 583.2 518.0 584.4 C515.7 585.7 509.8 586.7 507.2 586.0 C504.7 585.2 503.6 583.2 502.6 579.8 C501.6 576.5 502.4 569.3 501.1 566.0 C499.8 562.7 496.0 560.9 494.9 559.9" stroke-width="1.7"/>
<ellipse cx="511.8" cy="582.1" rx="9.2" ry="3.4" transform="rotate(-10 511.8 582.1)" stroke-width="1.5"/>
<ellipse cx="515.2" cy="527.3" rx="10.1" ry="12.3" transform="rotate(28 515.2 527.3)" stroke-width="2.3"/>
<path d="M500.3 496.9 L510.3 516.9" stroke-width="1.6"/>
<path d="M524.9 498.4 L519.5 515.3" stroke-width="1.6"/>
<path d="M503.8 495.4 L513.4 515.0" stroke-width="1.0"/>
<path d="M522.6 498.7 L516.4 514.6" stroke-width="1.0"/>
<circle cx="499.5" cy="494.1" r="3.1" stroke-width="1.8"/>
<circle cx="499.5" cy="494.1" r="1.4" stroke-width="1.2"/>
<circle cx="526.0" cy="497.2" r="2.8" stroke-width="1.7"/>
<path d="M504.5 498.9 C507.6 496.3 519.4 485.0 523.2 483.1 C527.0 481.2 526.5 485.5 527.5 487.4 C528.5 489.3 528.8 493.4 529.0 494.6" stroke-width="1.8"/>
<path d="M528.4 495.4 C529.5 495.9 532.8 496.8 534.9 498.4 C537.0 500.1 539.0 502.4 541.0 505.3 C543.1 508.3 544.9 513.8 547.2 516.1 C549.5 518.4 553.6 518.7 554.8 519.2" stroke-width="1.8"/>
<circle cx="553.0" cy="523.3" r="2.8" stroke-width="1.7"/>
<path d="M555.0 530.7 C554.7 532.2 554.1 537.0 553.3 539.9 C552.5 542.8 551.3 546.0 550.2 548.3 C549.2 550.7 548.7 552.3 547.2 553.7 C545.6 555.1 543.1 556.2 541.0 556.8 C539.0 557.4 536.9 556.8 534.9 557.6 C532.8 558.3 530.8 560.3 528.7 561.4 C526.7 562.5 524.6 563.5 522.6 564.2 C520.5 564.8 518.5 565.4 516.4 565.2 C514.4 565.0 512.1 564.3 510.3 562.9 C508.5 561.5 506.5 557.8 505.7 556.8" stroke-width="1.8"/>
<circle cx="531.0" cy="559.1" r="2.8" stroke-width="1.7"/>
<path d="M540.2 559.1 L543.3 559.1 L543.3 564.5 L540.2 564.5 Z" stroke-width="1.6"/>
<path d="M537.9 513.8 C538.5 516.4 541.0 524.0 541.0 529.1 C541.0 534.3 540.5 540.8 537.9 544.5 C535.4 548.2 530.5 550.7 525.7 551.4 C520.8 552.2 513.1 550.5 508.8 549.1 C504.4 547.7 501.1 544.0 499.5 543.0" stroke-width="1.0" stroke-dasharray="2 1.6"/>
<path d="M547.2 526.1 C546.9 529.1 547.7 539.6 545.6 544.5 C543.6 549.4 536.7 553.5 534.9 555.3" stroke-width="1.0" stroke-dasharray="2 1.6"/>
<path d="M481.9 527.6 C483.3 528.5 487.6 530.7 490.3 533.0 C493.0 535.3 495.2 539.0 498.0 541.4 C500.8 543.9 504.4 545.5 507.2 547.6 C510.0 549.6 513.6 552.7 514.9 553.7" stroke-width="1.1"/>
<path d="M493.4 559.9 C493.9 561.9 495.2 569.1 496.5 572.2 C497.7 575.2 500.3 577.3 501.1 578.3" stroke-width="1.0"/>
<path d="M499.5 513.0 A1.5 1.5 0 0 1 499.5 510.0" stroke-width="1.3"/>
<ellipse cx="381.1" cy="442.0" rx="19.8" ry="24.1" transform="rotate(30 381.1 442.0)" stroke-width="2.2"/>
<path d="M393.5 448.4 L393.1 448.9 L392.6 449.3 L391.9 449.6 L391.2 449.7 L390.4 449.8 L389.8 449.9 L389.3 450.2 L388.9 450.5 L388.6 450.9 L388.3 451.5 L388.2 452.2 L388.1 453.1 L387.9 453.9 L387.6 454.7 L387.3 455.2 L386.8 455.7 L386.3 455.9 L385.7 455.9 L385.1 455.8 L384.4 455.4 L383.9 455.1 L383.3 454.8 L382.9 454.7 L382.4 454.7 L382.0 455.0 L381.5 455.4 L381.1 456.0 L380.6 456.7 L380.0 457.4 L379.5 458.0 L378.9 458.3 L378.4 458.4 L377.9 458.3 L377.4 458.0 L377.1 457.4 L376.8 456.7 L376.5 456.0 L376.3 455.4 L376.0 455.0 L375.7 454.8 L375.2 454.7 L374.7 454.8 L374.1 455.1 L373.4 455.5 L372.6 455.8 L372.0 456.0 L371.4 456.0 L370.9 455.8 L370.6 455.3 L370.5 454.8 L370.5 454.0 L370.6 453.2 L370.8 452.3 L370.9 451.6 L370.9 451.0 L370.7 450.6 L370.5 450.3 L370.0 450.1 L369.4 449.9 L368.7 449.9 L368.0 449.7 L367.5 449.5 L367.1 449.1 L366.9 448.6 L366.8 448.0 L367.0 447.3 L367.4 446.6 L367.9 445.9 L368.4 445.2 L368.9 444.6 L369.1 444.0 L369.2 443.5 L369.2 443.0 L369.0 442.6 L368.6 442.1 L368.1 441.6 L367.7 441.0 L367.4 440.4 L367.3 439.8 L367.4 439.1 L367.7 438.6 L368.1 438.0 L368.7 437.6 L369.5 437.2 L370.2 436.9 L370.8 436.6 L371.3 436.2 L371.6 435.8 L371.8 435.3 L371.9 434.7 L371.9 434.0 L371.8 433.2 L371.7 432.4 L371.8 431.6 L372.1 431.0 L372.4 430.5 L372.9 430.1 L373.5 429.8 L374.2 429.8 L374.9 429.9 L375.6 430.0 L376.2 430.1 L376.7 430.1 L377.1 429.9 L377.5 429.5 L377.9 429.0 L378.2 428.3 L378.5 427.5 L378.9 426.7 L379.3 426.0 L379.8 425.5 L380.3 425.3 L380.9 425.2 L381.4 425.3 L381.9 425.7 L382.4 426.3 L382.8 426.8 L383.2 427.3 L383.6 427.5 L384.0 427.6 L384.5 427.5 L385.0 427.3 L385.5 426.8 L386.2 426.2 L386.8 425.7 L387.5 425.3 L388.1 425.1 L388.6 425.2 L389.0 425.5 L389.3 426.0 L389.5 426.6 L389.6 427.4 L389.6 428.3 L389.7 428.9 L389.8 429.4 L390.1 429.8 L390.5 430.0 L391.0 430.0 L391.6 429.9 L392.3 429.8 L393.1 429.7 L393.7 429.7 L394.2 429.9 L394.6 430.3 L394.8 430.8 L394.8 431.5 L394.6 432.3 L394.2 433.1 L393.8 433.9 L393.5 434.6 L393.4 435.2 L393.4 435.7 L393.6 436.1 L393.9 436.4 L394.4 436.7 L395.1 437.1 L395.7 437.4 L396.1 437.9 L396.4 438.4 L396.4 439.0 L396.3 439.6 L396.0 440.2 L395.5 440.8 L394.8 441.4 L394.1 441.9 L393.6 442.4 L393.2 442.9 L393.0 443.4 L392.9 443.9 L393.0 444.4 L393.2 445.0 L393.5 445.7 L393.7 446.5 L393.8 447.2 L393.8 447.8 Z" stroke-width="1.8"/>
<path d="M366.9 452.1 C367.2 452.8 368.0 454.9 368.8 456.1 C369.7 457.3 371.1 458.2 372.0 459.3 C372.8 460.3 373.0 461.7 374.0 462.4 C375.0 463.1 377.1 464.1 377.9 463.6 C378.7 463.1 378.6 460.0 378.7 459.3" stroke-width="1.6"/>
<path d="M364.5 452.9 C364.9 454.0 365.7 457.7 366.9 459.3 C368.0 460.8 370.8 461.9 371.6 462.4" stroke-width="1.3"/>
<path d="M385.0 423.7 C385.7 423.5 387.7 422.2 389.0 422.5 C390.3 422.8 391.7 424.0 392.9 425.3 C394.1 426.5 395.0 428.9 396.1 430.0 C397.1 431.1 398.7 431.7 399.3 432.0" stroke-width="1.5"/>
<path d="M397.7 434.8 C398.2 435.8 401.1 439.1 400.8 441.1 C400.6 443.1 396.9 445.7 396.1 446.6" stroke-width="1.0" stroke-dasharray="2 1.6"/>
<path d="M389.8 456.1 C389.0 456.8 386.6 458.9 385.0 460.0 C383.4 461.2 381.1 462.7 380.3 463.2" stroke-width="1.0" stroke-dasharray="2 1.6"/>
<path d="M450.4 485.0 L450.0 485.5 L449.5 486.0 L448.3 485.9 L446.9 485.5 L446.2 485.6 L445.8 486.0 L445.4 486.3 L445.0 486.7 L444.7 487.1 L444.5 487.7 L444.7 488.8 L445.1 490.3 L444.9 491.1 L444.4 491.6 L443.9 492.0 L443.4 492.3 L442.8 492.6 L442.2 492.7 L441.3 492.0 L440.2 490.9 L439.6 490.6 L439.1 490.7 L438.6 490.9 L438.1 491.0 L437.7 491.2 L437.2 491.6 L436.8 492.7 L436.5 494.3 L435.9 494.9 L435.3 495.1 L434.7 495.2 L434.1 495.2 L433.5 495.2 L432.9 494.9 L432.5 493.8 L432.2 492.3 L431.8 491.7 L431.3 491.5 L430.8 491.4 L430.3 491.3 L429.9 491.3 L429.3 491.3 L428.5 492.2 L427.4 493.4 L426.6 493.7 L426.0 493.5 L425.5 493.3 L425.0 493.0 L424.5 492.6 L424.1 492.1 L424.3 490.9 L424.8 489.3 L424.7 488.6 L424.4 488.2 L424.1 487.9 L423.7 487.5 L423.4 487.2 L422.9 487.0 L421.8 487.3 L420.3 487.8 L419.5 487.7 L419.1 487.2 L418.8 486.7 L418.5 486.2 L418.3 485.6 L418.2 485.0 L418.9 484.0 L420.1 482.8 L420.4 482.1 L420.3 481.6 L420.2 481.1 L420.1 480.6 L419.9 480.1 L419.6 479.7 L418.6 479.4 L417.0 479.1 L416.5 478.6 L416.4 477.9 L416.4 477.3 L416.4 476.7 L416.5 476.1 L416.7 475.4 L417.8 474.9 L419.3 474.4 L419.9 474.0 L420.1 473.5 L420.2 473.0 L420.4 472.5 L420.5 472.0 L420.4 471.4 L419.7 470.6 L418.6 469.5 L418.4 468.7 L418.6 468.1 L418.9 467.6 L419.2 467.0 L419.6 466.5 L420.1 466.1 L421.2 466.1 L422.7 466.5 L423.4 466.4 L423.8 466.1 L424.2 465.7 L424.5 465.3 L424.9 464.9 L425.1 464.4 L424.9 463.2 L424.5 461.7 L424.7 460.9 L425.1 460.4 L425.6 460.1 L426.2 459.7 L426.7 459.4 L427.4 459.3 L428.3 460.0 L429.3 461.1 L430.0 461.4 L430.5 461.3 L430.9 461.1 L431.4 461.0 L431.9 460.8 L432.4 460.4 L432.7 459.3 L433.1 457.7 L433.7 457.1 L434.3 456.9 L434.9 456.8 L435.5 456.8 L436.1 456.8 L436.6 457.1 L437.1 458.2 L437.4 459.7 L437.8 460.3 L438.3 460.5 L438.8 460.6 L439.2 460.7 L439.7 460.8 L440.3 460.7 L441.1 459.8 L442.2 458.6 L443.0 458.3 L443.5 458.5 L444.1 458.7 L444.6 459.0 L445.1 459.4 L445.4 459.9 L445.3 461.1 L444.8 462.7 L444.8 463.4 L445.2 463.8 L445.5 464.2 L445.8 464.5 L446.2 464.8 L446.7 465.0 L447.8 464.7 L449.3 464.2 L450.1 464.3 L450.5 464.8 L450.8 465.3 L451.1 465.8 L451.3 466.4 L451.3 467.0 L450.6 468.1 L449.5 469.2 L449.2 469.9 L449.2 470.4 L449.4 470.9 L449.5 471.4 L449.6 471.9 L449.9 472.3 L451.0 472.6 L452.5 472.9 L453.1 473.5 L453.2 474.1 L453.2 474.7 L453.2 475.3 L453.1 476.0 L452.8 476.6 L451.8 477.1 L450.2 477.6 L449.7 478.0 L449.5 478.5 L449.3 479.0 L449.2 479.5 L449.1 480.0 L449.1 480.6 L449.9 481.4 L451.0 482.5 L451.2 483.3 L451.0 483.9 L450.7 484.5 Z" stroke-width="2.0"/>
<ellipse cx="434.4" cy="476.6" rx="6.6" ry="11.9" transform="rotate(28 434.4 476.6)" stroke-width="2.2"/>
<path d="M446.1 484.9 L445.8 485.4 L445.4 485.8 L444.4 485.7 L443.2 485.4 L442.6 485.5 L442.2 485.8 L441.9 486.1 L441.6 486.5 L441.3 486.8 L441.1 487.3 L441.3 488.2 L441.6 489.5 L441.5 490.2 L441.1 490.6 L440.7 490.9 L440.2 491.2 L439.7 491.4 L439.2 491.5 L438.4 491.0 L437.6 490.0 L437.0 489.8 L436.6 489.9 L436.2 490.0 L435.8 490.2 L435.4 490.3 L435.0 490.7 L434.7 491.6 L434.4 493.0 L433.9 493.5 L433.4 493.7 L432.9 493.7 L432.4 493.8 L431.9 493.7 L431.4 493.5 L431.0 492.6 L430.8 491.3 L430.4 490.8 L430.1 490.7 L429.7 490.6 L429.3 490.5 L428.9 490.4 L428.4 490.5 L427.7 491.2 L426.7 492.3 L426.1 492.5 L425.6 492.4 L425.2 492.2 L424.8 491.9 L424.4 491.7 L424.1 491.2 L424.2 490.2 L424.6 488.9 L424.6 488.2 L424.3 487.9 L424.0 487.6 L423.8 487.3 L423.5 487.0 L423.0 486.9 L422.1 487.2 L420.8 487.6 L420.2 487.5 L419.9 487.1 L419.6 486.7 L419.4 486.3 L419.2 485.8 L419.2 485.2 L419.8 484.3 L420.7 483.3 L421.0 482.8 L421.0 482.3 L420.9 481.9 L420.8 481.5 L420.6 481.1 L420.4 480.7 L419.5 480.5 L418.2 480.2 L417.8 479.8 L417.7 479.3 L417.7 478.7 L417.7 478.2 L417.8 477.7 L418.0 477.1 L418.9 476.7 L420.2 476.3 L420.7 475.9 L420.8 475.4 L421.0 475.0 L421.1 474.6 L421.2 474.1 L421.1 473.7 L420.5 473.0 L419.6 472.1 L419.5 471.4 L419.6 470.9 L419.9 470.4 L420.1 469.9 L420.4 469.5 L420.9 469.1 L421.9 469.2 L423.1 469.5 L423.7 469.4 L424.0 469.1 L424.3 468.8 L424.6 468.4 L424.9 468.1 L425.1 467.6 L424.9 466.7 L424.6 465.4 L424.8 464.7 L425.2 464.3 L425.6 464.0 L426.1 463.7 L426.5 463.4 L427.1 463.4 L427.8 463.9 L428.7 464.9 L429.2 465.1 L429.6 465.0 L430.1 464.8 L430.5 464.7 L430.9 464.5 L431.2 464.2 L431.6 463.3 L431.9 461.9 L432.4 461.4 L432.9 461.2 L433.4 461.2 L433.9 461.1 L434.4 461.2 L434.9 461.4 L435.2 462.3 L435.5 463.6 L435.8 464.1 L436.2 464.2 L436.6 464.3 L437.0 464.4 L437.4 464.4 L437.9 464.4 L438.6 463.6 L439.5 462.6 L440.2 462.4 L440.6 462.5 L441.1 462.7 L441.5 462.9 L441.9 463.2 L442.2 463.7 L442.1 464.7 L441.6 466.0 L441.7 466.7 L441.9 467.0 L442.2 467.3 L442.5 467.6 L442.8 467.8 L443.2 468.0 L444.2 467.7 L445.4 467.3 L446.0 467.4 L446.4 467.8 L446.6 468.2 L446.9 468.6 L447.1 469.1 L447.1 469.7 L446.5 470.5 L445.5 471.5 L445.3 472.1 L445.3 472.6 L445.4 473.0 L445.5 473.4 L445.6 473.8 L445.9 474.2 L446.8 474.4 L448.0 474.7 L448.5 475.1 L448.6 475.6 L448.6 476.2 L448.6 476.7 L448.5 477.2 L448.3 477.8 L447.4 478.2 L446.1 478.6 L445.6 479.0 L445.4 479.4 L445.3 479.9 L445.2 480.3 L445.1 480.7 L445.1 481.2 L445.7 481.9 L446.7 482.8 L446.8 483.5 L446.6 484.0 L446.4 484.5 Z" stroke-width="1.2"/>
<ellipse cx="521.1" cy="601.8" rx="6.7" ry="4.1" transform="rotate(-15 521.1 601.8)" stroke-width="1.7"/>
<circle cx="521.1" cy="601.8" r="1.0" stroke-width="1.1"/>
<path d="M514.7 602.8 C515.0 603.6 515.8 606.0 516.4 607.9 C516.9 609.8 517.7 613.2 517.9 614.3" stroke-width="1.7"/>
<path d="M527.5 599.6 C527.9 600.8 529.5 604.5 530.1 606.6 C530.6 608.8 530.6 611.4 530.7 612.4" stroke-width="1.7"/>
<path d="M517.9 614.3 C518.9 614.6 521.5 616.2 523.7 616.0 C525.8 615.7 529.5 613.3 530.7 612.8" stroke-width="1.7"/>
<path d="M517.3 607.9 C518.4 607.8 522.2 607.9 524.3 607.4 C526.4 606.9 528.8 605.5 529.7 605.1" stroke-width="1.1"/>
<path d="M524.6 624.5 L527.5 622.0 L530.7 622.6 L542.0 652.7 L539.0 655.5 L536.1 655.2 Z" stroke-width="1.6"/>
<path d="M531.3 625.2 L526.2 627.0 M531.9 627.0 L526.9 628.9 M532.6 628.8 L527.6 630.7 M533.3 630.7 L528.3 632.5 M534.0 632.5 L529.0 634.4 M534.7 634.3 L529.6 636.2 M535.4 636.2 L530.3 638.0 M536.0 638.0 L531.0 639.9 M536.7 639.8 L531.7 641.7 M537.4 641.7 L532.4 643.5 M538.1 643.5 L533.0 645.4 M538.8 645.3 L533.7 647.2 M539.4 647.2 L534.4 649.0 M540.1 649.0 L535.1 650.9 M540.8 650.8 L535.8 652.7" stroke-width="0.8"/>
<ellipse cx="542.9" cy="667.0" rx="7.0" ry="3.3" transform="rotate(-12 542.9 667.0)" stroke-width="1.7"/>
<path d="M535.8 668.3 L536.1 678.3" stroke-width="1.7"/>
<path d="M549.9 665.2 L551.8 676.0" stroke-width="1.7"/>
<path d="M551.3 670.6 L536.6 672.5 M551.5 672.1 L536.8 673.9 M551.7 673.5 L537.0 675.4 M551.9 674.9 L537.1 676.8 M552.0 676.4 L537.3 678.2" stroke-width="0.9"/>
<path d="M535.2 676.4 L537.4 685.3 L548.4 686.2 L558.6 680.6 L556.9 671.9 L551.8 670.9" stroke-width="1.8"/>
<path d="M548.4 686.2 L548.0 679.6 L557.6 676.4" stroke-width="1.2"/>
<path d="M537.4 685.3 L535.8 678.3" stroke-width="1.2"/>
<path d="M607.6 550.6 L608.6 547.8 L610.2 547.0 L623.4 554.2 L621.4 558.7 Z" stroke-width="1.7"/>
<path d="M611.8 547.8 L609.9 551.1 M613.1 548.5 L611.1 551.8 M614.3 549.3 L612.4 552.6 M615.6 550.0 L613.7 553.3 M616.9 550.7 L615.0 554.1 M618.2 551.5 L616.3 554.8 M619.5 552.2 L617.5 555.5 M620.7 552.9 L618.8 556.3" stroke-width="1.1"/>
<path d="M621.2 556.5 L626.6 552.9 L633.2 554.2 L637.6 559.1 L636.8 566.0 L630.7 569.8 L624.0 568.5 L620.2 563.7 Z" stroke-width="1.9"/>
<path d="M622.5 557.4 C622.2 558.5 620.6 562.1 620.9 563.9 C621.3 565.7 624.0 567.6 624.6 568.3" stroke-width="1.4"/>
<path d="M625.3 558.8 C625.7 559.1 626.7 560.6 627.8 560.6 C629.0 560.6 631.6 559.1 632.3 558.8" stroke-width="1.1"/>
<path d="M627.8 560.6 L626.8 566.2" stroke-width="1.1"/>
<path d="M566.1 591.6 L567.0 589.0 L568.7 588.1 L603.5 609.2 L601.6 613.1 Z" stroke-width="1.7"/>
<path d="M570.4 589.1 L568.4 592.4 M571.9 590.0 L569.9 593.3 M573.4 590.9 L571.4 594.2 M574.8 591.8 L572.8 595.0 M576.3 592.6 L574.3 595.9 M577.7 593.5 L575.7 596.8 M579.2 594.4 L577.2 597.7 M580.7 595.3 L578.7 598.6 M582.1 596.2 L580.1 599.5 M583.6 597.1 L581.6 600.4 M585.0 598.0 L583.1 601.2 M586.5 598.8 L584.5 602.1" stroke-width="1.1"/>
<path d="M601.2 612.1 L607.6 608.0 L614.0 609.9 L617.9 614.6 L616.8 621.0 L611.5 624.6 L605.1 624.0 L600.7 619.5 Z" stroke-width="1.9"/>
<path d="M602.5 612.8 C602.2 613.8 600.6 617.0 601.0 618.8 C601.3 620.6 604.2 622.8 604.8 623.6" stroke-width="1.4"/>
<path d="M605.1 614.1 C605.6 614.4 607.1 616.0 608.4 615.9 C609.7 615.8 612.0 614.0 612.7 613.6" stroke-width="1.1"/>
<path d="M608.4 615.9 L607.6 621.3" stroke-width="1.1"/>
<g clip-path="url(#k15)">
<ellipse cx="242.5" cy="107.1" rx="3.8" ry="4.6" transform="rotate(20 242.5 107.1)" stroke-width="1.9"/>
<ellipse cx="253.2" cy="127.8" rx="4.8" ry="3.4" transform="rotate(30 253.2 127.8)" stroke-width="1.9"/>
<path d="M256.1 123.7 C256.8 124.5 259.6 126.8 260.1 128.3 C260.6 129.9 259.2 132.2 259.0 132.9" stroke-width="1.8"/>
<path d="M270.5 95.0 C269.8 96.1 267.3 99.6 266.7 101.7 C266.0 103.7 265.8 106.0 266.7 107.4 C267.5 108.8 270.3 108.9 272.0 109.9 C273.6 110.9 275.6 112.0 276.8 113.4 C277.9 114.8 278.2 116.7 278.9 118.6 C279.5 120.4 279.8 122.6 280.5 124.3 C281.1 126.0 282.4 127.9 282.8 128.6" stroke-width="1.8"/>
<circle cx="272.8" cy="117.4" r="2.8" stroke-width="1.7"/>
<circle cx="286.0" cy="131.2" r="2.8" stroke-width="1.7"/>
<circle cx="279.1" cy="140.1" r="3.2" stroke-width="1.8"/>
<circle cx="296.9" cy="134.3" r="3.2" stroke-width="1.8"/>
<path d="M259.0 132.9 C259.1 133.7 258.1 136.2 259.8 137.8 C261.4 139.3 266.1 141.0 268.7 142.4 C271.4 143.7 273.7 145.3 275.6 145.8 C277.6 146.3 278.9 146.3 280.5 145.6 C282.0 144.8 283.4 142.2 285.1 141.2 C286.7 140.2 288.5 139.8 290.6 139.4 C292.6 139.0 295.7 139.6 297.5 138.9 C299.2 138.3 300.4 136.8 301.1 135.5 C301.9 134.1 301.9 132.4 301.7 130.9 C301.5 129.3 300.5 127.6 300.0 126.3 C299.5 124.9 298.5 124.3 298.9 122.8 C299.2 121.3 301.0 119.2 302.3 117.1 C303.6 114.9 305.7 112.5 306.9 109.9 C308.0 107.4 308.6 104.4 309.2 101.9 C309.8 99.4 310.2 96.1 310.3 95.0" stroke-width="2.0"/>
<circle cx="318.4" cy="156.1" r="3.9" stroke-width="1.8"/>
<path d="M261.8 106.5 C262.2 108.4 262.8 114.5 264.1 118.0 C265.5 121.4 268.2 124.3 269.9 127.2 C271.6 130.1 273.7 133.9 274.5 135.2" stroke-width="0.9" stroke-dasharray="2 1.6"/>
<path d="M246.9 118.0 L254.9 123.7" stroke-width="0.9" stroke-dasharray="2 1.6"/>
<path d="M240.0 131.8 C241.1 133.1 244.4 138.7 246.9 139.8 C249.4 141.0 253.6 138.9 254.9 138.7" stroke-width="0.9" stroke-dasharray="2 1.6"/>
<path d="M256.1 141.0 L268.7 143.3" stroke-width="0.9" stroke-dasharray="2 1.6"/>
<path d="M297.5 144.4 L304.4 152.5" stroke-width="0.9" stroke-dasharray="2 1.6"/>
<path d="M313.6 112.2 L309.0 126.0" stroke-width="0.9" stroke-dasharray="2 1.6"/>
<path d="M240.0 148.1 C241.1 148.9 244.4 150.4 246.9 152.7 C249.4 155.0 253.6 160.4 254.9 161.9" stroke-width="1.8"/>
<path d="M257.2 162.8 C259.2 162.4 265.9 160.3 268.7 160.5 C271.6 160.7 273.5 163.4 274.5 164.0" stroke-width="0.9" stroke-dasharray="2 1.6"/>
</g>
<path d="M248.6 256.1 C249.6 252.6 251.7 250.1 255.0 248.0 C258.3 246.0 264.0 244.3 268.1 243.9 C272.2 243.5 276.8 243.9 279.6 245.5 C282.4 247.1 283.6 249.9 284.7 253.3 C285.7 256.7 286.2 262.1 286.0 266.0 C285.8 269.8 284.8 273.7 283.5 276.6 C282.2 279.4 280.8 281.3 278.2 283.0 C275.7 284.7 271.7 286.5 268.1 286.9 C264.5 287.3 259.2 286.6 256.4 285.5 C253.5 284.4 252.4 283.3 251.1 280.5 C249.8 277.7 249.0 272.8 248.6 268.7 C248.1 264.7 247.5 259.5 248.6 256.1 Z" stroke-width="1.9"/>
<ellipse cx="266.0" cy="267.6" rx="13.3" ry="16.1" transform="rotate(15 266.0 267.6)" stroke-width="1.5"/>
<ellipse cx="267.2" cy="266.7" rx="9.2" ry="11.5" transform="rotate(15 267.2 266.7)" stroke-width="1.0"/>
<path d="M259.6 274.5 C260.7 273.3 263.8 269.9 266.5 267.6 C269.2 265.3 274.2 261.8 275.7 260.7" stroke-width="0.9"/>
<path d="M313.2 86.9 C312.4 90.1 310.0 100.4 308.3 106.3 C306.7 112.3 304.8 119.4 303.4 122.5 C301.9 125.7 299.9 124.3 299.6 125.4 C299.2 126.5 301.0 128.5 301.3 129.2" stroke-width="2.0"/>
<path d="M326.9 71.1 C327.4 71.5 330.0 69.7 330.1 73.2 C330.3 76.8 329.1 86.0 328.0 92.3 C327.0 98.5 325.4 104.5 323.8 110.6 C322.2 116.7 319.8 122.1 318.2 128.9 C316.5 135.7 314.6 147.7 313.9 151.4" stroke-width="1.9"/>
<path d="M325.2 72.5 C324.7 75.8 323.6 85.9 322.4 92.3 C321.2 98.6 319.6 104.5 318.2 110.6 C316.8 116.7 315.1 122.5 313.9 128.9 C312.8 135.2 311.6 145.3 311.1 148.6" stroke-width="1.0" stroke-dasharray="2 1.6"/>
<path d="M339.3 76.1 C340.0 76.5 343.0 76.2 343.5 78.9 C344.0 81.6 343.1 87.0 342.4 92.3 C341.7 97.5 340.5 104.5 339.6 110.6 C338.6 116.7 337.7 125.5 336.8 128.9 C335.8 132.2 334.4 130.3 333.9 130.6" stroke-width="1.9"/>
<path d="M336.5 78.2 C336.0 80.5 334.6 86.9 333.7 92.3 C332.7 97.7 332.0 104.5 330.8 110.6 C329.7 116.7 327.8 122.5 326.6 128.9 C325.4 135.2 324.3 145.3 323.8 148.6" stroke-width="1.0" stroke-dasharray="2 1.6"/>
<path d="M311.1 93.7 L343.8 93.0" stroke-width="2.1"/>
<path d="M306.9 109.4 L340.3 110.1" stroke-width="2.1"/>
<path d="M301.3 127.7 L338.2 129.2" stroke-width="2.1"/>
<circle cx="346.3" cy="90.1" r="3.4" stroke-width="1.8"/>
<path d="M301.3 128.9 C300.8 131.9 298.5 143.4 298.5 147.2 C298.5 150.9 300.8 150.7 301.3 151.4" stroke-width="0.9" stroke-dasharray="2 1.6"/>
<path d="M325.2 128.9 L327.3 148.6" stroke-width="0.9" stroke-dasharray="2 1.6"/>
<path d="M151.6 117.5 C157.5 110.5 179.8 83.9 187.5 75.8 C195.1 67.7 193.7 70.4 197.5 68.6 C201.4 66.8 206.4 65.7 210.5 65.0 C214.5 64.3 220.0 64.4 222.0 64.3" stroke-width="0.9" stroke-dasharray="2 1.6"/>
<path d="M204.7 71.5 C204.0 72.7 201.4 75.1 200.4 78.7 C199.4 82.3 200.2 89.2 199.0 93.0 C197.8 96.9 194.9 99.3 193.2 101.7 C191.5 104.1 191.1 104.8 188.9 107.4 C186.8 110.0 183.2 114.8 180.3 117.5 C177.4 120.1 174.3 120.8 171.7 123.2 C169.0 125.6 166.2 129.2 164.5 131.8 C162.8 134.5 162.1 137.8 161.6 139.0" stroke-width="0.9" stroke-dasharray="2 1.6"/>
<path d="M214.8 70.1 C214.5 72.0 213.8 77.7 213.3 81.6 C212.9 85.4 212.9 89.5 211.9 93.0 C210.9 96.6 208.8 99.3 207.6 103.1 C206.4 106.9 206.1 112.4 204.7 116.0 C203.3 119.6 201.4 122.0 199.0 124.7 C196.6 127.3 193.0 129.2 190.3 131.8 C187.7 134.5 184.8 137.6 183.2 140.5 C181.5 143.3 180.8 147.6 180.3 149.1" stroke-width="0.9" stroke-dasharray="2 1.6"/>
<path d="M193.2 101.7 C194.7 101.9 199.0 102.9 201.8 103.1 C204.7 103.3 207.8 102.4 210.5 103.1 C213.1 103.8 215.2 105.5 217.6 107.4 C220.0 109.3 223.6 113.4 224.8 114.6" stroke-width="0.9" stroke-dasharray="2 1.6"/>
<path d="M188.9 107.4 C190.6 108.1 196.3 110.3 199.0 111.7 C201.6 113.2 203.8 115.3 204.7 116.0" stroke-width="0.9" stroke-dasharray="2 1.6"/>
<path d="M171.7 123.2 C173.1 123.5 177.7 123.5 180.3 124.7 C182.9 125.9 185.6 129.2 187.5 130.4 C189.4 131.6 191.1 131.6 191.8 131.8" stroke-width="0.9" stroke-dasharray="2 1.6"/>
<path d="M199.0 124.7 C200.9 125.1 206.6 126.1 210.5 127.5 C214.3 129.0 218.7 132.1 222.0 133.3 C225.2 134.5 228.7 134.5 230.0 134.7" stroke-width="0.9" stroke-dasharray="2 1.6"/>
<path d="M161.6 139.0 C163.5 139.3 170.0 139.7 173.1 140.5 C176.2 141.2 179.1 142.9 180.3 143.3" stroke-width="0.9" stroke-dasharray="2 1.6"/>
<path d="M210.5 103.1 C211.4 100.7 214.3 92.8 216.2 88.7 C218.1 84.7 219.7 81.1 222.0 78.7 C224.3 76.3 228.7 75.1 230.0 74.4" stroke-width="0.9" stroke-dasharray="2 1.6"/>
<path d="M144.4 129.0 C146.3 128.7 152.5 127.0 155.9 127.5 C159.2 128.0 163.0 131.1 164.5 131.8" stroke-width="0.9" stroke-dasharray="2 1.6"/>
<path d="M137.0 137.4 L148.5 127.5" stroke-width="0.9" stroke-dasharray="2 1.6"/>
<path d="M141.6 158.6 L150.0 150.9" stroke-width="0.9" stroke-dasharray="2 1.6"/>
<path d="M150.1 157.7 C151.6 156.5 155.9 152.4 158.7 150.5 C161.6 148.6 164.7 147.9 167.4 146.2 C170.0 144.5 173.3 141.4 174.5 140.5" stroke-width="0.9" stroke-dasharray="2 1.6"/>
<path d="M184.6 120.3 C185.6 120.3 188.2 120.3 190.3 120.3 C192.5 120.3 196.3 120.3 197.5 120.3" stroke-width="0.9" stroke-dasharray="2 1.6"/>
<path d="M216.2 74.4 C217.4 75.1 221.1 77.5 223.4 78.7 C225.7 79.9 228.9 81.1 230.0 81.6" stroke-width="0.9" stroke-dasharray="2 1.6"/>
<path d="M298.3 11.1 L296.7 14.1 L298.3 20.1 L323.4 32.2 L328.4 30.2 Z" stroke-width="1.9"/>
<path d="M301.3 17.1 L324.4 30.2" stroke-width="1.0"/>
<path d="M303.3 25.1 C303.0 27.0 301.3 32.0 301.3 36.2 C301.3 40.4 302.1 47.1 303.3 50.3 C304.5 53.5 306.4 54.6 308.3 55.3 C310.2 56.1 313.7 54.8 314.8 54.7" stroke-width="1.8"/>
<path d="M328.4 30.2 C330.1 31.0 338.2 30.5 338.5 35.2 C338.8 39.9 333.5 50.8 330.5 58.3 C327.4 65.9 323.8 73.8 320.4 80.5 C317.0 87.2 313.2 93.2 310.3 98.6 C307.5 103.9 305.1 108.3 303.3 112.6 C301.5 117.0 300.3 120.0 299.3 124.7 C298.3 129.4 297.6 138.1 297.3 140.8" stroke-width="1.9"/>
<path d="M318.4 35.2 C318.1 37.0 317.7 42.7 316.4 46.3 C315.0 49.8 312.0 54.0 310.3 56.3 C308.7 58.7 307.7 58.3 306.3 60.3 C305.0 62.4 303.6 65.0 302.3 68.4 C301.0 71.7 299.6 76.4 298.3 80.5 C296.9 84.5 295.8 88.5 294.3 92.5 C292.7 96.6 290.9 100.9 289.2 104.6 C287.5 108.3 285.7 112.0 284.2 114.7 C282.7 117.3 281.2 118.3 280.2 120.7 C279.2 123.0 278.5 127.4 278.2 128.7" stroke-width="1.8"/>
<path d="M325.4 33.2 C324.6 35.0 321.4 41.1 320.4 44.3 C319.4 47.4 319.1 50.0 319.4 52.3 C319.7 54.6 322.9 56.0 322.4 58.3 C321.9 60.7 318.4 64.4 316.4 66.4 C314.4 68.4 311.7 68.1 310.3 70.4 C309.0 72.7 308.3 77.4 308.3 80.5 C308.3 83.5 311.0 85.8 310.3 88.5 C309.7 91.2 306.0 93.9 304.3 96.6 C302.6 99.2 301.0 101.9 300.3 104.6 C299.6 107.3 301.0 110.0 300.3 112.6 C299.6 115.3 297.4 118.0 296.3 120.7 C295.1 123.4 293.8 127.4 293.2 128.7" stroke-width="1.7"/>
<path d="M321.4 36.2 C320.7 38.1 318.4 44.3 317.4 47.3 C316.4 50.3 315.4 52.3 315.4 54.3 C315.4 56.3 318.1 57.3 317.4 59.3 C316.7 61.4 313.4 64.2 311.4 66.4 C309.3 68.6 306.7 69.7 305.3 72.4 C304.0 75.1 303.5 79.5 303.3 82.5 C303.1 85.5 305.1 87.8 304.3 90.5 C303.5 93.2 299.9 95.5 298.3 98.6 C296.7 101.6 295.5 105.6 294.7 108.6 C293.8 111.6 294.2 114.0 293.2 116.7 C292.3 119.3 289.9 123.4 289.2 124.7" stroke-width="0.9"/>
<path d="M325.1 44.5 A2.6 2.6 0 0 1 327.7 40.0" stroke-width="1.4"/>
<path d="M313.1 70.7 A2.6 2.6 0 0 1 315.7 66.1" stroke-width="1.4"/>
<path d="M297.4 114.5 A2.6 2.6 0 0 1 300.0 110.0" stroke-width="1.4"/>
<path d="M264.5 226.0 C263.5 227.2 260.6 230.6 258.7 232.9 C256.8 235.2 254.7 237.1 253.0 239.8 C251.3 242.5 249.8 245.6 248.4 249.0 C247.1 252.4 245.5 258.2 244.9 260.0" stroke-width="1.8"/>
<path d="M249.5 212.2 C251.6 213.3 258.4 216.7 262.0 219.0 C265.6 221.3 269.8 224.8 271.4 226.0" stroke-width="1.8"/>
<path d="M234.0 200.0 L249.5 212.2" stroke-width="0.9"/>
<path d="M492.9 544.9 C492.8 547.2 492.8 554.9 492.0 558.7 C491.2 562.6 489.1 564.9 488.1 567.9 C487.1 571.0 486.6 575.6 486.3 577.1" stroke-width="1.8"/>
<path d="M478.0 541.5 C478.5 543.0 479.4 548.0 480.9 550.7 C482.3 553.4 485.7 556.4 486.6 557.6" stroke-width="1.3"/>
<path d="M468.8 555.3 C470.5 555.8 475.7 558.0 479.1 558.2 C482.6 558.4 487.8 556.7 489.5 556.4" stroke-width="0.9" stroke-dasharray="2 1.6"/>
<circle cx="467.6" cy="580.6" r="2.1" stroke-width="1.7"/>
<path d="M498.7 541.5 C501.0 542.6 508.3 547.6 512.5 548.4 C516.7 549.2 520.2 548.0 524.0 546.1 C527.7 544.2 533.2 538.4 535.0 536.9" stroke-width="0.9" stroke-dasharray="2 1.6"/>
<path d="M524.0 561.0 C524.7 560.3 526.7 557.6 528.6 556.7 C530.4 555.7 533.9 555.5 535.0 555.3" stroke-width="1.5"/>
<path d="M329.2 128.0 L326.8 147.6" stroke-width="1.8"/>
<path d="M299.2 126.9 C299.1 130.4 297.6 143.4 298.6 147.6 C299.6 151.8 303.9 151.5 304.9 152.3" stroke-width="1.6"/>
<path d="M329.1 143.0 L342.9 142.4" stroke-width="0.9"/>
</g><!--end-->
</svg>
</body></html>
